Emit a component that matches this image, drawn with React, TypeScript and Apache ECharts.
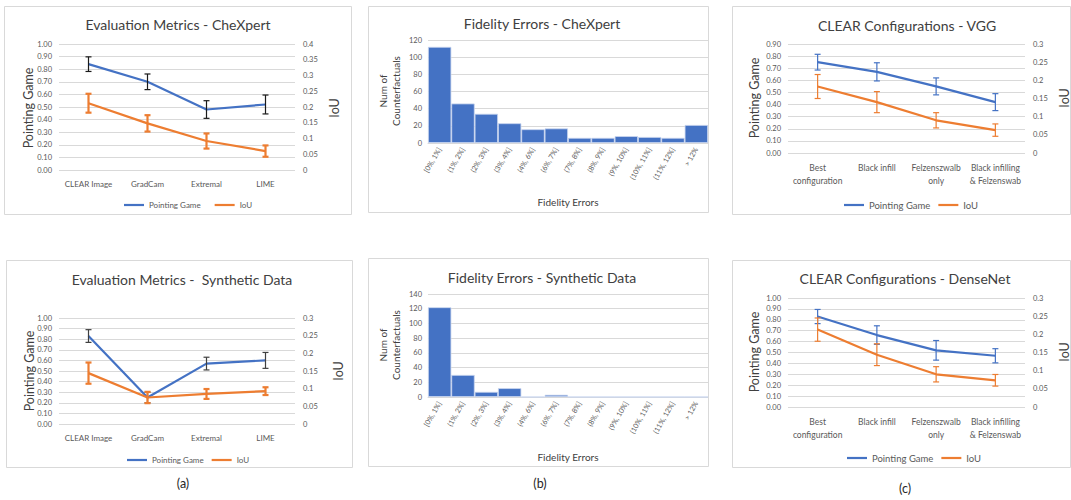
import { useEffect, useRef } from 'react';
import * as echarts from 'echarts';

// ---------- data ----------
const methods = ['CLEAR Image', 'GradCam', 'Extremal', 'LIME'];
const configs = ['Best\nconfiguration', 'Black infill', 'Felzenszwalb\nonly', 'Black infilling\n& Felzenswab'];
const bins = ['[0%, 1%]', '(1%, 2%]', '(2%, 3%]', '(3%, 4%]', '(4%, 6%]', '(6%, 7%]', '(7%, 8%]', '(8%, 9%]', '(9%, 10%]', '(10%, 11%]', '(11%, 12%]', '> 12%'];

const chexPG = [0.84, 0.70, 0.48, 0.52];
const chexPGErr = [0.058, 0.062, 0.07, 0.075];
const chexIoU = [0.212, 0.148, 0.092, 0.06];
const chexIoUErr = [0.03, 0.026, 0.024, 0.018];

const synPG = [0.83, 0.25, 0.57, 0.60];
const synPGErr = [0.06, 0.05, 0.06, 0.075];
const synIoU = [0.144, 0.075, 0.085, 0.093];
const synIoUErr = [0.03, 0.016, 0.014, 0.011];

const vggPG = [0.75, 0.67, 0.55, 0.42];
const vggPGErr = [0.065, 0.075, 0.07, 0.07];
const vggIoU = [0.183, 0.14, 0.09, 0.063];
const vggIoUErr = [0.033, 0.029, 0.021, 0.017];

const densePG = [0.83, 0.66, 0.52, 0.47];
const densePGErr = [0.065, 0.085, 0.09, 0.065];
const denseIoU = [0.213, 0.144, 0.09, 0.0735];
const denseIoUErr = [0.032, 0.03, 0.021, 0.016];

const chexFidelity = [112, 46, 34, 23, 16, 17, 6, 6, 8, 7, 6, 21];
const synFidelity = [122, 30, 7, 12, 0, 3, 0, 0, 0, 0, 0, 0];

// ---------- style ----------
const FONT = 'Lato, "Open Sans", sans-serif';
const BLUE = '#4472C4';
const ORANGE = '#ED7D31';
const GRID = '#d9d9d9';
const LABEL = '#595959';
const TITLE = '#404040';

const errRender = (color: string, width: number, half: number) => (params: any, api: any) => {
  const x = api.value(0);
  const lo = api.coord([x, api.value(1)]);
  const hi = api.coord([x, api.value(2)]);
  const st = { stroke: color, lineWidth: width };
  return {
    type: 'group',
    children: [
      { type: 'line', shape: { x1: lo[0], y1: lo[1], x2: hi[0], y2: hi[1] }, style: st },
      { type: 'line', shape: { x1: lo[0] - half, y1: lo[1], x2: lo[0] + half, y2: lo[1] }, style: st },
      { type: 'line', shape: { x1: hi[0] - half, y1: hi[1], x2: hi[0] + half, y2: hi[1] }, style: st },
    ],
  };
};

const errData = (v: number[], e: number[]) => v.map((m, i) => [i, m - e[i], m + e[i]]);

export default function App() {
  const ref = useRef<HTMLDivElement>(null);
  useEffect(() => {
    if (!ref.current) return;
    const chart = echarts.init(ref.current, undefined, { renderer: 'svg' });

    const grids: any[] = [];
    const xAxes: any[] = [];
    const yAxes: any[] = [];
    const series: any[] = [];
    const legends: any[] = [];

    const linePanel = (o: any) => {
      const gi = grids.length;
      grids.push({ left: o.left, top: o.top, width: o.width, height: o.height });
      const xi = xAxes.length;
      xAxes.push({
        type: 'category', gridIndex: gi, data: o.cats,
        axisLine: { show: false }, axisTick: { show: false },
        axisLabel: { color: LABEL, fontFamily: FONT, fontSize: o.catFont, interval: 0, margin: o.catMargin, lineHeight: o.catFont + 4 },
      });
      const yl = yAxes.length;
      yAxes.push({
        type: 'value', gridIndex: gi, position: 'left', min: 0, max: o.leftMax, interval: 0.1,
        axisLine: { show: false }, axisTick: { show: false },
        splitLine: { lineStyle: { color: GRID, width: 1 } },
        axisLabel: { color: LABEL, fontFamily: FONT, fontSize: 7.5, margin: 7, formatter: (v: number) => v.toFixed(2) },
      });
      const yr = yAxes.length;
      yAxes.push({
        type: 'value', gridIndex: gi, position: 'right', min: 0, max: o.rightMax, interval: 0.05,
        axisLine: { show: false }, axisTick: { show: false }, splitLine: { show: false },
        axisLabel: { color: LABEL, fontFamily: FONT, fontSize: 7.5, margin: 8 },
      });
      series.push({
        type: 'line', name: 'Pointing Game', xAxisIndex: xi, yAxisIndex: yl, data: o.pg,
        symbol: 'none', lineStyle: { color: BLUE, width: 2.2 }, itemStyle: { color: BLUE }, z: 2,
      });
      series.push({
        type: 'line', name: 'IoU', xAxisIndex: xi, yAxisIndex: yr, data: o.iou,
        symbol: 'none', lineStyle: { color: ORANGE, width: 2.2 }, itemStyle: { color: ORANGE }, z: 2,
      });
      series.push({
        type: 'custom', name: 'pgErr' + gi, xAxisIndex: xi, yAxisIndex: yl,
        data: errData(o.pg, o.pgErr), encode: { x: 0, y: [1, 2] },
        renderItem: errRender(o.pgErrColor, o.pgErrW, 3), z: 5,
      });
      series.push({
        type: 'custom', name: 'iouErr' + gi, xAxisIndex: xi, yAxisIndex: yr,
        data: errData(o.iou, o.iouErr), encode: { x: 0, y: [1, 2] },
        renderItem: errRender(ORANGE, o.iouErrW, 3), z: 5,
      });
      legends.push({
        data: ['Pointing Game', 'IoU'], left: o.legLeft, top: o.legTop, icon: 'rect',
        itemWidth: o.legIconW, itemHeight: 2.2, itemGap: o.legGap,
        textStyle: { color: LABEL, fontFamily: FONT, fontSize: o.legFont },
        selectedMode: false,
      });
    };

    const histPanel = (o: any) => {
      const gi = grids.length;
      grids.push({ left: o.left, top: o.top, width: o.width, height: o.height });
      const xi = xAxes.length;
      xAxes.push({
        type: 'category', gridIndex: gi, data: bins,
        axisLine: { show: true, lineStyle: { color: GRID } }, axisTick: { show: false },
        axisLabel: { color: LABEL, fontFamily: FONT, fontSize: 7.2, interval: 0, rotate: 60, margin: 5 },
      });
      const yi = yAxes.length;
      yAxes.push({
        type: 'value', gridIndex: gi, min: 0, max: o.max, interval: 20,
        axisLine: { show: false }, axisTick: { show: false },
        splitLine: { lineStyle: { color: GRID, width: 1 } },
        axisLabel: { color: LABEL, fontFamily: FONT, fontSize: 7.5, margin: 6 },
      });
      series.push({
        type: 'bar', name: 'Num of Counterfactuals', xAxisIndex: xi, yAxisIndex: yi, data: o.data,
        barCategoryGap: '0%', itemStyle: { color: BLUE, borderColor: '#c9d6ef', borderWidth: 0.8 },
      });
    };

    linePanel({
      left: 59, top: 44, width: 236, height: 126, cats: methods, catFont: 8, catMargin: 8,
      leftMax: 1, rightMax: 0.4, pg: chexPG, pgErr: chexPGErr, iou: chexIoU, iouErr: chexIoUErr,
      pgErrColor: '#1a1a1a', pgErrW: 1.2, iouErrW: 2.2,
      legLeft: 119, legTop: 196, legIconW: 20, legGap: 14, legFont: 8,
    });
    histPanel({ left: 428, top: 40, width: 280, height: 103, max: 120, data: chexFidelity });
    linePanel({
      left: 788, top: 44, width: 237, height: 109, cats: configs, catFont: 8.5, catMargin: 9,
      leftMax: 0.9, rightMax: 0.3, pg: vggPG, pgErr: vggPGErr, iou: vggIoU, iouErr: vggIoUErr,
      pgErrColor: BLUE, pgErrW: 1.2, iouErrW: 1.2,
      legLeft: 839, legTop: 195, legIconW: 20, legGap: 8, legFont: 9.5,
    });
    linePanel({
      left: 59, top: 318, width: 236, height: 106, cats: methods, catFont: 8, catMargin: 8,
      leftMax: 1, rightMax: 0.3, pg: synPG, pgErr: synPGErr, iou: synIoU, iouErr: synIoUErr,
      pgErrColor: '#404040', pgErrW: 1.2, iouErrW: 2.2,
      legLeft: 122, legTop: 451, legIconW: 20, legGap: 8, legFont: 8,
    });
    histPanel({ left: 428, top: 294, width: 280, height: 103, max: 140, data: synFidelity });
    linePanel({
      left: 788, top: 298, width: 237, height: 109, cats: configs, catFont: 8.5, catMargin: 9,
      leftMax: 1, rightMax: 0.3, pg: densePG, pgErr: densePGErr, iou: denseIoU, iouErr: denseIoUErr,
      pgErrColor: BLUE, pgErrW: 1.2, iouErrW: 1.2,
      legLeft: 842, legTop: 448, legIconW: 20, legGap: 8, legFont: 9.5,
    });

    const txt = (text: string, x: number, y: number, size: number, rot = 0, color = TITLE) => ({
      type: 'text', x, y, rotation: rot, silent: true,
      style: {
        text, fill: color, fontSize: size, fontFamily: FONT,
        align: 'center', verticalAlign: 'middle', textAlign: 'center', textVerticalAlign: 'middle',
      },
    });
    const box = (x: number, y: number, w: number, h: number) => ({
      type: 'rect', shape: { x, y, width: w, height: h }, silent: true, z: -10,
      style: { fill: '#ffffff', stroke: GRID, lineWidth: 1 },
    });
    const R = Math.PI / 2;

    const graphic: any[] = [
      box(4.5, 6.5, 347, 208),
      box(368.5, 6.5, 340, 206),
      box(732.5, 6.5, 338, 208),
      box(6.5, 260.5, 346, 207),
      box(368.5, 258.5, 340, 208),
      box(732.5, 260.5, 338, 207),
      txt('Evaluation Metrics - CheXpert', 178, 24, 14),
      txt('Fidelity Errors - CheXpert', 542, 23, 14),
      txt('CLEAR Configurations - VGG', 907, 25, 14),
      txt('Evaluation Metrics -  Synthetic Data', 182, 279, 14),
      txt('Fidelity Errors - Synthetic Data', 542, 277, 14),
      txt('CLEAR Configurations - DenseNet', 905, 278, 14),
      txt('Pointing Game', 28, 108, 12.5, R),
      txt('IoU', 334, 108, 12.5, R),
      txt('Pointing Game', 29, 371, 12.5, R),
      txt('IoU', 338, 371, 12.5, R),
      txt('Pointing Game', 754, 98, 12.5, R),
      txt('IoU', 1064, 98, 12.5, R),
      txt('Pointing Game', 754, 352, 12.5, R),
      txt('IoU', 1064, 352, 12.5, R),
      txt('Num of', 383, 91, 10, R),
      txt('Counterfactuals', 396, 91, 10, R),
      txt('Fidelity Errors', 568, 202, 10),
      txt('Num of', 383, 345, 10, R),
      txt('Counterfactuals', 396, 345, 10, R),
      txt('Fidelity Errors', 568, 457, 10),
      txt('(a)', 183, 483, 12.5, 0, '#262626'),
      txt('(b)', 540, 483, 12.5, 0, '#262626'),
      txt('(c)', 905, 488, 12.5, 0, '#262626'),
    ];

    chart.setOption({
      animation: false,
      backgroundColor: '#ffffff',
      grid: grids,
      xAxis: xAxes,
      yAxis: yAxes,
      legend: legends,
      series,
      graphic,
    });
    return () => chart.dispose();
  }, []);
  return <div ref={ref} style={{ position: 'fixed', left: 0, top: 0, width: 1071, height: 500 }} />;
}
